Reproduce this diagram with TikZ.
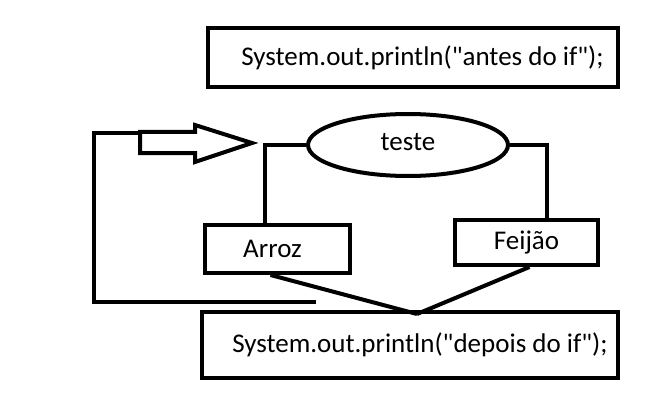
\documentclass[tikz,border=0pt]{standalone}
\usepackage{fontspec}
\setmainfont{Carlito}
\usetikzlibrary{shapes.geometric}

\begin{document}
\begin{tikzpicture}[x=1pt,y=-1pt,line width=4pt,
  caixa/.style={draw,rectangle,inner sep=0pt,font=\fontsize{27}{30}\selectfont},
  teste/.style={draw,ellipse,inner sep=0pt,font=\fontsize{27}{30}\selectfont}]
\useasboundingbox (0,0) rectangle (646,412);

\node[caixa,minimum width=410pt,minimum height=59pt] (antes) at (413,57.5) {\hspace{19pt}System.out.println(\textquotedbl antes do if\textquotedbl);};

\node[teste,minimum width=200pt,minimum height=62pt] (cond) at (408,145) {\raisebox{6pt}{teste}};

\node[caixa,minimum width=145pt,minimum height=48pt] (arroz) at (277.5,249) {\hspace{-10pt}Arroz};
\node[caixa,minimum width=143pt,minimum height=45pt] (feijao) at (526.5,242.5) {Feijão};

\node[caixa,minimum width=416pt,minimum height=66pt] (depois) at (410,345) {\hspace{20pt}System.out.println(\textquotedbl depois do if\textquotedbl);};

\coordinate (sim) at (265,145);
\draw (cond.west) -- (sim) -- (sim |- arroz.north);

\coordinate (nao) at (547,145);
\draw (cond.east) -- (nao) -- (nao |- feijao.north);

\coordinate (junta) at (417,314);
\draw ([xshift=-7pt]arroz.south) -- (junta);
\draw ([xshift=3pt]feijao.south) -- (junta);

\coordinate (volta) at (316,302);
\draw (volta) -- (94,302) -- (94,133) -- (140,133);

\draw[line join=miter] (140,132) -- (195,132) -- (195,125) -- (252,143) -- (195,162) -- (195,153) -- (140,153) -- cycle;

\end{tikzpicture}
\end{document}
